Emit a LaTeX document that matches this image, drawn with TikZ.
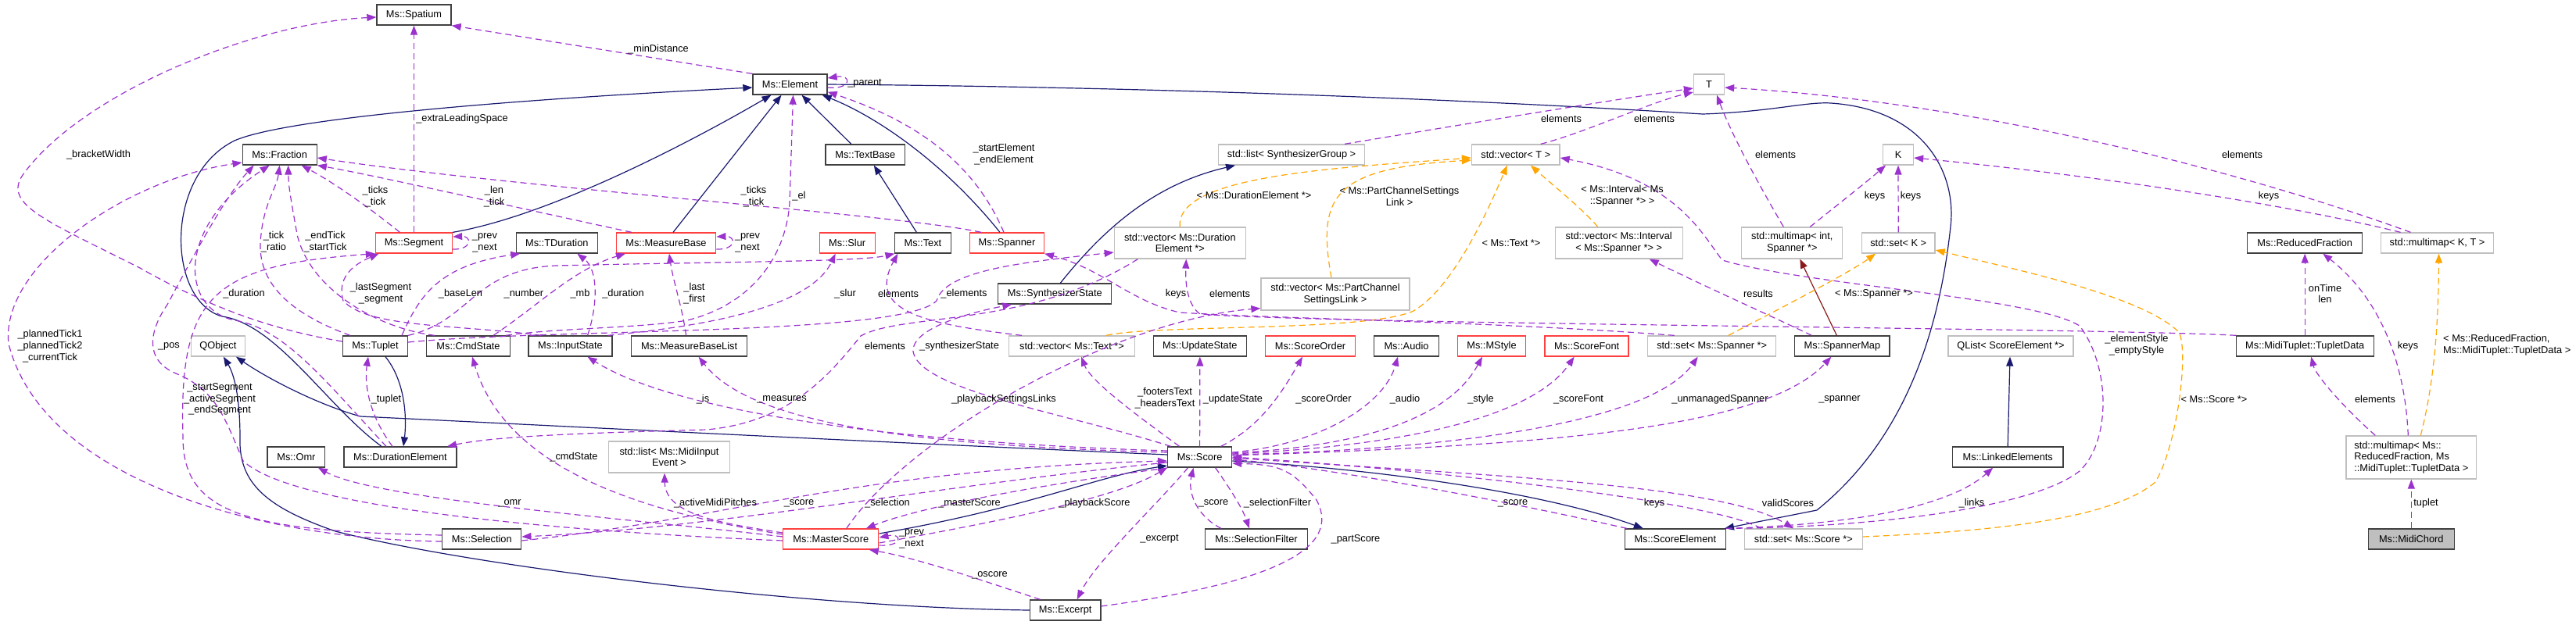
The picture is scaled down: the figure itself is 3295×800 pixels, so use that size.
\documentclass[tikz,border=0pt]{standalone}
\usepackage{fontspec}
\setmainfont{Liberation Sans}
\usetikzlibrary{arrows.meta}

\definecolor{usecol}{RGB}{154,50,205}
\definecolor{inhcol}{RGB}{25,25,112}
\definecolor{tplcol}{RGB}{255,165,0}
\definecolor{owncol}{RGB}{139,26,26}
\definecolor{redbox}{RGB}{255,64,64}
\definecolor{graybox}{RGB}{191,191,191}
\definecolor{darkbox}{RGB}{64,64,64}

\tikzset{
  cls/.style={draw=darkbox, fill=white, line width=1.3pt, inner sep=0pt,
    minimum height=26pt, font=\fontsize{12.8}{14.8}\selectfont, align=center},
  trunc/.style={cls, draw=redbox},
  tmpl/.style={cls, draw=graybox},
  focus/.style={cls, fill=graybox},
  lbl/.style={font=\fontsize{12.8}{14.8}\selectfont, align=center, inner sep=0pt},
  tip/.style={-{Triangle[length=12pt,width=9pt]}},
  usage/.style={tip, draw=usecol, line width=1.2pt, dash pattern=on 8pt off 5pt},
  inh/.style={tip, draw=inhcol, line width=1.2pt},
  tpl/.style={tip, draw=tplcol, line width=1.2pt, dash pattern=on 8pt off 5pt},
  own/.style={tip, draw=owncol, line width=1.2pt}
}

\begin{document}
\begin{tikzpicture}[x=1pt, y=-1pt]
  \useasboundingbox (0,0) rectangle (3295,800);

  % classes, top row down
  \node[cls, minimum width=95] (spatium) at (529.5,19) {Ms::Spatium};

  \node[cls, minimum width=95] (element) at (1010.5,108) {Ms::Element};
  \node[tmpl, minimum width=39] (tparam) at (2186,108) {T};

  \node[cls, minimum width=95] (fraction) at (357.7,198) {Ms::Fraction};
  \node[cls, minimum width=101.5] (textbase) at (1106.8,198) {Ms::TextBase};
  \node[tmpl, minimum width=187] (listsg) at (1652,198) {std::list< SynthesizerGroup >};
  \node[tmpl, minimum width=112.5] (vectorT) at (1938.8,198) {std::vector< T >};
  \node[tmpl, minimum width=39] (kparam) at (2428,198) {K};

  \node[trunc, minimum width=98] (segment) at (529.5,311) {Ms::Segment};
  \node[cls, minimum width=104] (tdur) at (712.3,311) {Ms::TDuration};
  \node[trunc, minimum width=127.5] (mbase) at (852,311) {Ms::MeasureBase};
  \node[trunc, minimum width=71] (slur) at (1083.7,311) {Ms::Slur};
  \node[cls, minimum width=72] (mstext) at (1180.4,311) {Ms::Text};
  \node[trunc, minimum width=94.6] (spanner) at (1288,311) {Ms::Spanner};
  \node[tmpl, minimum width=168, minimum height=40] (vecDE) at (1509.3,311) {std::vector< Ms::Duration\\Element *>};
  \node[tmpl, minimum width=163, minimum height=40] (vecInt) at (2070.7,311) {std::vector< Ms::Interval\\< Ms::Spanner *> >};
  \node[tmpl, minimum width=129, minimum height=40] (mmapInt) at (2292.3,311) {std::multimap< int,\\Spanner *>};
  \node[tmpl, minimum width=93.6] (setK) at (2428.2,311) {std::set< K >};
  \node[cls, minimum width=147] (redfrac) at (2948.2,311) {Ms::ReducedFraction};
  \node[tmpl, minimum width=144] (mmapKT) at (3117.5,311) {std::multimap< K, T >};

  \node[cls, minimum width=145] (synth) at (1349.3,376) {Ms::SynthesizerState};
  \node[tmpl, minimum width=190, minimum height=41] (vecPCSL) at (1708,376.5) {std::vector< Ms::PartChannel\\SettingsLink >};

  \node[tmpl, minimum width=68.6] (qobject) at (278.9,443) {QObject};
  \node[cls, minimum width=83] (tuplet) at (480,443) {Ms::Tuplet};
  \node[cls, minimum width=107] (cmdstate) at (599,443) {Ms::CmdState};
  \node[cls, minimum width=107] (inputstate) at (729.5,443) {Ms::InputState};
  \node[cls, minimum width=148] (mbaselist) at (881.6,443) {Ms::MeasureBaseList};
  \node[tmpl, minimum width=160.7] (vecText) at (1371,443) {std::vector< Ms::Text *>};
  \node[cls, minimum width=119] (updstate) at (1534.8,443) {Ms::UpdateState};
  \node[trunc, minimum width=115.4] (scoreorder) at (1676,443) {Ms::ScoreOrder};
  \node[cls, minimum width=83] (audio) at (1799,443) {Ms::Audio};
  \node[trunc, minimum width=86.8] (mstyle) at (1908,443) {Ms::MStyle};
  \node[trunc, minimum width=107] (scorefont) at (2029.6,443) {Ms::ScoreFont};
  \node[tmpl, minimum width=164] (setSpanner) at (2189.7,443) {std::set< Ms::Spanner *>};
  \node[cls, minimum width=121.4] (spannermap) at (2356.4,443) {Ms::SpannerMap};
  \node[tmpl, minimum width=160] (qlist) at (2572,443) {QList< ScoreElement *>};
  \node[cls, minimum width=176] (tupletdata) at (2948.2,443) {Ms::MidiTuplet::TupletData};

  \node[cls, minimum width=73.6] (omr) at (378.9,585) {Ms::Omr};
  \node[cls, minimum width=144] (durel) at (512,585) {Ms::DurationElement};
  \node[tmpl, minimum width=155, minimum height=40] (listMidi) at (856,585) {std::list< Ms::MidiInput\\Event >};
  \node[cls, minimum width=82] (score) at (1534.6,585) {Ms::Score};
  \node[cls, minimum width=141.4] (linked) at (2568.2,585) {Ms::LinkedElements};
  \node[tmpl, minimum width=166.6, minimum height=55, align=left] (mmapRF) at (3084.3,585.5) {std::multimap< Ms::\\ReducedFraction, Ms\\::MidiTuplet::TupletData >};

  \node[cls, minimum width=101] (selection) at (616.3,690) {Ms::Selection};
  \node[trunc, minimum width=122] (mscore) at (1062.8,690) {Ms::MasterScore};
  \node[cls, minimum width=130.7] (selfilter) at (1607,690) {Ms::SelectionFilter};
  \node[cls, minimum width=129] (scoreel) at (2142.8,690) {Ms::ScoreElement};
  \node[tmpl, minimum width=150.7] (setScore) at (2306.8,690) {std::set< Ms::Score *>};
  \node[focus, minimum width=110] (midichord) at (3084.3,690) {Ms::MidiChord};

  \node[cls, minimum width=90.4] (excerpt) at (1362.7,781) {Ms::Excerpt};

  % inheritance
  \draw[inh] (segment.north east) .. controls (711,275) and (904,170) .. ([xshift=-24]element.south);
  \draw[inh] ([xshift=9]mbase.north) -- ([xshift=-11]element.south);
  \draw[inh] ([xshift=-18]textbase.north) -- ([xshift=15]element.south);
  \draw[inh] ([xshift=-8]mstext.north) -- ([xshift=11]textbase.south);
  \draw[inh] ([xshift=-9]spanner.north) .. controls (1209,210) and (1123,150) .. ([xshift=-7]element.south east);
  \draw[inh] ([xshift=-24]durel.north) .. controls (418,520) and (354,415) .. (284,405)
    .. controls (214,385) and (209,225) .. (300,180) .. controls (364,152) and (640,128) .. ([yshift=-4]element.west);
  \draw[inh] ([xshift=13]tuplet.south) .. controls (520,490) and (520,540) .. ([xshift=4]durel.north);
  \draw[inh] ([yshift=3]score.west) .. controls (1101,565) and (711,545) .. (461,533)
    .. controls (407,518) and (343,485) .. ([xshift=23]qobject.south);
  \draw[inh] (excerpt.west) .. controls (1033,778) and (604,725) .. (429,680)
    .. controls (343,650) and (305,620) .. (307,560) .. controls (307,510) and (300,480) .. ([xshift=7]qobject.south);
  \draw[inh] ([yshift=7]mscore.east) .. controls (1316,650) and (1401,610) .. ([yshift=-11]score.west);
  \draw[inh] ([yshift=-5]score.east) .. controls (1759,600) and (1974,630) .. ([xshift=-41]scoreel.north);
  \draw[inh] ([xshift=7]synth.north) .. controls (1414,290) and (1479,235) .. ([xshift=-72]listsg.south);
  \draw[inh] (linked.north) -- ([xshift=-1]qlist.south);
  \draw[inh] (element.east) .. controls (1530,112) and (1920,130) .. (2178,146)
    .. controls (2267,143) and (2310,130) .. (2342,132) .. controls (2460,140) and (2503,220) .. (2495,290)
    .. controls (2481,420) and (2439,560) .. (2324,653) -- ([xshift=-2]scoreel.north east);
  \draw[own] ([xshift=-7]spannermap.north) -- ([xshift=10]mmapInt.south);

  % template instances
  \draw[tpl] (vecDE.north) .. controls (1503,225) and (1706,215) .. ([yshift=-4]vectorT.west);
  \draw[tpl] ([xshift=-5]vecPCSL.north) .. controls (1684,250) and (1706,215) .. ([yshift=-7]vectorT.west);
  \draw[tpl] ([xshift=44]vecText.north) .. controls (1476,415) and (1749,425) .. (1808,398)
    .. controls (1856,370) and (1899,280) .. ([xshift=-11]vectorT.south);
  \draw[tpl] ([xshift=-27]vecInt.north) .. controls (2027,270) and (1984,235) .. ([xshift=19]vectorT.south);
  \draw[tpl] ([xshift=21]setSpanner.north) .. controls (2267,400) and (2364,350) .. ([xshift=-29]setK.south);
  \draw[tpl] ([yshift=3]setScore.east) .. controls (2550,680) and (2700,665) .. (2757,617)
    .. controls (2785,570) and (2800,450) .. (2787,425) .. controls (2740,380) and (2600,350) .. ([yshift=-9]setK.east);
  \draw[tpl] ([xshift=12]mmapRF.north) .. controls (3116,480) and (3119,400) .. ([xshift=2]mmapKT.south);

  % members, right part
  \draw[usage] (midichord.north) -- (mmapRF.south);
  \draw[usage] ([xshift=-46]mmapRF.north) .. controls (2996,520) and (2962,480) .. ([xshift=8]tupletdata.south);
  \draw[usage] ([xshift=-4]mmapRF.north) .. controls (3076,460) and (3042,380) .. ([xshift=23]redfrac.south);
  \draw[usage] (tupletdata.north) -- (redfrac.south);
  \draw[usage] ([xshift=-34]mmapKT.north) .. controls (2871,220) and (2524,130) .. ([yshift=-4]tparam.east);
  \draw[usage] ([xshift=-47]mmapKT.north) .. controls (2928,262) and (2685,225) .. ([yshift=-4]kparam.east);
  \draw[usage] ([xshift=-11]mmapInt.north) .. controls (2246,230) and (2214,170) .. ([xshift=10]tparam.south);
  \draw[usage] ([xshift=23]mmapInt.north) .. controls (2353,260) and (2385,235) .. ([xshift=-16]kparam.south);
  \draw[usage] (setK.north) -- (kparam.south);
  \draw[usage] ([xshift=68]listsg.north) .. controls (1866,160) and (2081,125) .. ([yshift=-5]tparam.west);
  \draw[usage] ([xshift=32]vectorT.north) .. controls (2027,170) and (2113,130) .. ([yshift=-10]tparam.west);
  \draw[usage] (scoreel.north east) .. controls (2400,675) and (2600,650) .. (2660,603)
    .. controls (2700,565) and (2700,470) .. (2660,417) .. controls (2600,380) and (2310,365) .. (2203,333)
    .. controls (2177,300) and (2145,230) .. ([yshift=-4]vectorT.east);
  \draw[usage] (scoreel.north east) .. controls (2364,672) and (2492,650) .. ([xshift=-19]linked.south);
  \draw[usage] ([xshift=-39]spannermap.north) .. controls (2256,400) and (2188,370) .. ([xshift=39]vecInt.south);
  \draw[usage] ([xshift=-48]setSpanner.north) .. controls (1920,412) and (1637,408) .. (1509,400)
    .. controls (1444,385) and (1412,345) .. (spanner.south east);
  \draw[usage] ([xshift=-88]tupletdata.north) .. controls (2700,420) and (1700,415) .. (1535,402)
    .. controls (1518,390) and (1516,360) .. ([xshift=8]vecDE.south);

  % members of the score
  \draw[usage] ([xshift=-26]score.north) .. controls (1466,540) and (1396,490) .. ([xshift=12]vecText.south);
  \draw[usage] (score.north) -- (updstate.south);
  \draw[usage] ([xshift=27]score.north) .. controls (1614,545) and (1641,500) .. ([xshift=-10]scoreorder.south);
  \draw[usage] ([yshift=6]score.east) .. controls (1684,570) and (1770,520) .. ([xshift=-11]audio.south);
  \draw[usage] ([yshift=5]score.east) .. controls (1759,570) and (1856,530) .. ([xshift=-12]mstyle.south);
  \draw[usage] ([yshift=4]score.east) .. controls (1813,570) and (1963,530) .. ([xshift=-16]scorefont.south);
  \draw[usage] ([yshift=3]score.east) .. controls (1866,575) and (2113,540) .. ([xshift=-18]setSpanner.south);
  \draw[usage] ([yshift=2]score.east) .. controls (1974,570) and (2256,550) .. ([xshift=-14]spannermap.south);
  \draw[usage] ([xshift=-62]scoreel.north) .. controls (1920,640) and (1706,600) .. ([yshift=-3]score.east);
  \draw[usage] ([xshift=-54]setScore.north) .. controls (2188,640) and (1813,600) .. (score.east);
  \draw[usage] ([yshift=-1]score.east) .. controls (1920,610) and (2203,620) .. ([xshift=-13]setScore.north);
  \draw[usage] ([xshift=-45]selfilter.north) .. controls (1530,660) and (1519,630) .. ([xshift=-8]score.south);
  \draw[usage] ([xshift=20]score.south) .. controls (1573,625) and (1589,650) .. ([xshift=-9]selfilter.north);
  \draw[usage] ([xshift=-15]score.south) .. controls (1476,650) and (1401,720) .. ([xshift=15]excerpt.north);
  \draw[usage] ([yshift=5]excerpt.east) .. controls (1637,745) and (1716,700) .. (1684,640)
    .. controls (1652,600) and (1637,595) .. ([yshift=-8]score.east);
  \draw[usage] ([xshift=-32]excerpt.north) .. controls (1262,745) and (1176,715) .. ([xshift=49]mscore.south);
  \draw[usage] ([yshift=-8]mscore.east) .. controls (1155,700) and (1155,682) .. ([yshift=2]mscore.east);
  \draw[usage] ([yshift=-5]mscore.east) .. controls (1262,670) and (1423,640) .. (score.south west);
  \draw[usage] ([yshift=-14]score.west) .. controls (1369,615) and (1187,645) .. ([xshift=45]mscore.north);
  \draw[usage] ([yshift=-7]score.west) .. controls (1209,620) and (926,675) .. ([yshift=3]selection.east);
  \draw[usage] ([yshift=-2]selection.east) .. controls (926,665) and (1101,600) .. ([yshift=-5]score.west);
  \draw[usage] ([yshift=8]score.west) .. controls (1101,565) and (851,520) .. ([xshift=22]inputstate.south);
  \draw[usage] ([yshift=6]score.west) .. controls (1155,570) and (958,540) .. ([xshift=12]mbaselist.south);
  \draw[usage] ([xshift=-37]score.north) .. controls (1369,530) and (1176,500) .. (1168,450)
    .. controls (1166,420) and (1241,400) .. ([xshift=-55]synth.south);
  \draw[usage] ([yshift=6]mscore.west) .. controls (819,655) and (647,600) .. ([xshift=5]cmdstate.south);
  \draw[usage] ([yshift=3]mscore.west) .. controls (819,665) and (482,640) .. ([xshift=28]omr.south);
  \draw[usage] ([yshift=8]mscore.west) .. controls (926,670) and (851,660) .. ([xshift=-6]listMidi.south);
  \draw[usage] ([xshift=20]mscore.north) .. controls (1161,560) and (1423,410) .. ([yshift=3]vecPCSL.south west);

  % members, left part
  \draw[usage] (element.north west) -- (spatium.south east);
  \draw[usage] (segment.north) -- (spatium.south);
  \draw[usage] ([yshift=6]tuplet.west) .. controls (364,425) and (279,400) .. (179,343)
    .. controls (54,280) and (0,260) .. (32,220) .. controls (107,120) and (321,30) .. ([yshift=-3]spatium.west);
  \draw[usage] ([yshift=-4]element.east) .. controls (1090,115) and (1090,95) .. ([yshift=8]element.east);
  \draw[usage] ([xshift=-4]spanner.north) .. controls (1251,220) and (1187,160) .. ([yshift=4]element.south east);
  \draw[usage] ([yshift=-8]segment.east) .. controls (604,320) and (604,302) .. ([yshift=8]segment.east);
  \draw[usage] ([yshift=-8]mbase.east) .. controls (942,320) and (942,302) .. ([yshift=8]mbase.east);
  \draw[usage] ([xshift=-18]segment.north) .. controls (471,265) and (429,235) .. ([xshift=28]fraction.south);
  \draw[usage] ([xshift=-44]mbase.north) .. controls (658,265) and (482,225) .. (fraction.south east);
  \draw[usage] ([xshift=-33]spanner.north) .. controls (1155,275) and (658,240) .. ([yshift=-4]fraction.east);
  \draw[usage] ([xshift=-32]tuplet.north) .. controls (354,395) and (327,350) .. (334,300)
    .. controls (338,260) and (354,240) .. (fraction.south);
  \draw[usage] ([xshift=-43]cmdstate.north) .. controls (482,420) and (396,370) .. (380,300)
    .. controls (373,260) and (369,240) .. ([xshift=11]fraction.south);
  \draw[usage] ([xshift=-18]durel.north) .. controls (418,490) and (364,420) .. (300,410)
    .. controls (230,395) and (225,290) .. ([xshift=-13]fraction.south);
  \draw[usage] ([yshift=-2]mscore.west) .. controls (711,680) and (375,650) .. (311,590)
    .. controls (289,540) and (279,500) .. (225,478) .. controls (182,460) and (193,420) .. (214,390)
    .. controls (246,330) and (289,250) .. ([xshift=-33]fraction.south);
  \draw[usage] ([yshift=-3]selection.west) .. controls (321,690) and (54,610) .. (11,440)
    .. controls (0,340) and (161,230) .. ([yshift=-10]fraction.west);
  \draw[usage] ([yshift=5]selection.west) .. controls (321,680) and (234,660) .. (234,560)
    .. controls (229,380) and (268,340) .. (segment.south west);
  \draw[usage] ([xshift=-37]inputstate.north) .. controls (583,415) and (471,420) .. (439,385)
    .. controls (429,350) and (461,335) .. ([xshift=-45]segment.south);
  \draw[usage] ([xshift=34]tuplet.north) .. controls (536,380) and (560,340) .. ([xshift=-47]tdur.south);
  \draw[usage] ([xshift=22]inputstate.north) .. controls (765,390) and (765,345) .. ([xshift=26]tdur.south);
  \draw[usage] ([xshift=32]cmdstate.north) .. controls (690,390) and (733,345) .. ([xshift=-52]mbase.south);
  \draw[usage] ([xshift=48]cmdstate.north) .. controls (711,420) and (820,420) .. (879,410)
    .. controls (960,390) and (1005,330) .. (1010,260) -- ([xshift=4]element.south);
  \draw[usage] ([xshift=-4]mbaselist.north) .. controls (872,390) and (861,360) .. ([xshift=4]mbase.south);
  \draw[usage] (tuplet.north east) .. controls (604,410) and (604,345) .. (711,340)
    .. controls (926,335) and (1101,335) .. ([xshift=-36]mstext.south);
  \draw[usage] ([xshift=48]inputstate.north) .. controls (872,420) and (1033,400) .. ([xshift=-15]slur.south);
  \draw[usage] ([xshift=-64]vecText.north) .. controls (1187,415) and (1107,400) .. ([xshift=-32]mstext.south);
  \draw[usage] ([xshift=-10]durel.north) .. controls (471,530) and (466,490) .. ([xshift=-9]tuplet.south);
  \draw[usage] ([yshift=5]tuplet.east) .. controls (711,420) and (1155,430) .. (1198,385)
    .. controls (1209,345) and (1316,335) .. ([yshift=-12]vecDE.west);
  \draw[usage] ([xshift=-54]vecDE.south) .. controls (1316,420) and (1155,400) .. (1101,430)
    .. controls (1061,480) and (1011,540) .. (904,550) .. controls (711,555) and (626,560) .. ([xshift=60]durel.north);

  % labels
  \node[lbl] (lbMinDist) at (842,63) {\_minDistance};
  \node[lbl] (lbExtra) at (591,152) {\_extraLeadingSpace};
  \node[lbl] (lbBracket) at (126,198) {\_bracketWidth};
  \node[lbl] (lbParent) at (1106,107) {\_parent};
  \node[lbl] (lbStartEl) at (1284,198) {\_startElement\\\_endElement};
  \node[lbl] (lbSegTick) at (480,252) {\_ticks\\\_tick};
  \node[lbl] (lbMbTick) at (632,252) {\_len\\\_tick};
  \node[lbl] (lbSpTick) at (964,252) {\_ticks\\\_tick};
  \node[lbl] (lbEl) at (1022,251) {\_el};
  \node[lbl] (lbSegPrev) at (620,311) {\_prev\\\_next};
  \node[lbl] (lbMbPrev) at (956,311) {\_prev\\\_next};
  \node[lbl] (lbTupTick) at (350,310) {\_tick\\\_ratio};
  \node[lbl] (lbCmdTick) at (416,310) {\_endTick\\\_startTick};
  \node[lbl] (lbDeDur) at (312,376) {\_duration};
  \node[lbl] (lbLastSeg) at (487,376) {\_lastSegment\\\_segment};
  \node[lbl] (lbBaseLen) at (589,376) {\_baseLen};
  \node[lbl] (lbNumber) at (670,376) {\_number};
  \node[lbl] (lbMb) at (742,376) {\_mb};
  \node[lbl] (lbIsDur) at (797,376) {\_duration};
  \node[lbl] (lbFirst) at (888,376) {\_last\\\_first};
  \node[lbl] (lbSlur) at (1081,376) {\_slur};
  \node[lbl] (lbTextEls) at (1149,376) {elements};
  \node[lbl] (lbTupEls) at (1233,376) {\_elements};
  \node[lbl] (lbSpKeys) at (1504,376) {keys};
  \node[lbl] (lbTdEls) at (1573,376) {elements};
  \node[lbl] (lbInstDE) at (1604,250) {< Ms::DurationElement *>};
  \node[lbl] (lbInstPCSL) at (1790,251) {< Ms::PartChannelSettings\\Link >};
  \node[lbl] (lbInstText) at (1933,311) {< Ms::Text *>};
  \node[lbl] (lbInstInt) at (2075,251) {< Ms::Interval< Ms\\::Spanner *> >};
  \node[lbl] (lbSgEls) at (1997,152) {elements};
  \node[lbl] (lbVtEls) at (2116,152) {elements};
  \node[lbl] (lbMiEls) at (2271,198) {elements};
  \node[lbl] (lbMiKeys) at (2398,251) {keys};
  \node[lbl] (lbSkKeys) at (2444,251) {keys};
  \node[lbl] (lbMkEls) at (2868,198) {elements};
  \node[lbl] (lbMkKeys) at (2902,251) {keys};
  \node[lbl] (lbOnTime) at (2974,376) {onTime\\len};
  \node[lbl] (lbRfKeys) at (3080,443) {keys};
  \node[lbl] (lbRfEls) at (3038,511) {elements};
  \node[lbl, anchor=west, align=left] (lbInstRF) at (3125,442) {< Ms::ReducedFraction,\\Ms::MidiTuplet::TupletData >};
  \node[lbl] (lbInstScore) at (2832,511) {< Ms::Score *>};
  \node[lbl] (lbInstSpan) at (2397,376) {< Ms::Spanner *>};
  \node[lbl] (lbResults) at (2249,376) {results};
  \node[lbl] (lbTuplet) at (3103,644) {tuplet};
  \node[lbl] (lbStyle2) at (2733,442) {\_elementStyle\\\_emptyStyle};
  \node[lbl] (lbLinks) at (2522,644) {\_links};
  \node[lbl] (lbValid) at (2287,644) {validScores};
  \node[lbl] (lbSsKeys) at (2116,644) {keys};
  \node[lbl] (lbSeScore) at (1935,644) {\_score};
  \node[lbl] (lbPartScore) at (1734,690) {\_partScore};
  \node[lbl] (lbSelFilter) at (1634,644) {\_selectionFilter};
  \node[lbl] (lbSfScore) at (1552,644) {\_score};
  \node[lbl] (lbExcerpt) at (1483,690) {\_excerpt};
  \node[lbl] (lbOscore) at (1266,736) {\_oscore};
  \node[lbl] (lbMsPrev) at (1166,690) {\_prev\\\_next};
  \node[lbl] (lbPlayScore) at (1400,644) {\_playbackScore};
  \node[lbl] (lbMaster) at (1240,644) {\_masterScore};
  \node[lbl] (lbSelection) at (1135,644) {\_selection};
  \node[lbl] (lbSelScore) at (1022,644) {\_score};
  \node[lbl] (lbMidi) at (915,644) {\_activeMidiPitches};
  \node[lbl] (lbOmr) at (652,644) {\_omr};
  \node[lbl] (lbCmdState) at (734,585) {\_cmdState};
  \node[lbl] (lbIs) at (899,511) {\_is};
  \node[lbl] (lbMeasures) at (1000,511) {\_measures};
  \node[lbl] (lbDeEls) at (1132,443) {elements};
  \node[lbl] (lbSynth) at (1227,443) {\_synthesizerState};
  \node[lbl] (lbPlayLinks) at (1284,511) {\_playbackSettingsLinks};
  \node[lbl] (lbHeaders) at (1490,510) {\_footersText\\\_headersText};
  \node[lbl] (lbUpdate) at (1577,511) {\_updateState};
  \node[lbl] (lbOrder) at (1693,511) {\_scoreOrder};
  \node[lbl] (lbAudio) at (1797,511) {\_audio};
  \node[lbl] (lbMStyle) at (1894,511) {\_style};
  \node[lbl] (lbFont) at (2019,511) {\_scoreFont};
  \node[lbl] (lbUnmanaged) at (2200,511) {\_unmanagedSpanner};
  \node[lbl] (lbSpannerMap) at (2353,511) {\_spanner};
  \node[lbl] (lbPlanned) at (64,443) {\_plannedTick1\\\_plannedTick2\\\_currentTick};
  \node[lbl] (lbPos) at (216,443) {\_pos};
  \node[lbl] (lbSelSegs) at (281,511) {\_startSegment\\\_activeSegment\\\_endSegment};
  \node[lbl] (lbDeTuplet) at (494,511) {\_tuplet};
\end{tikzpicture}
\end{document}
